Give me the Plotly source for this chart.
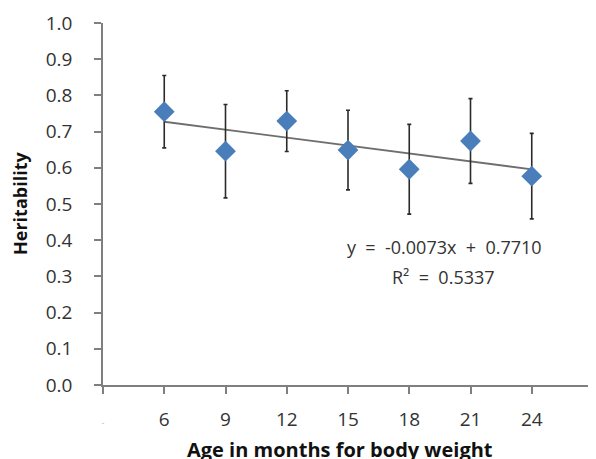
import plotly.graph_objects as go

months = [6, 9, 12, 15, 18, 21, 24]
heritability = [0.755, 0.646, 0.729, 0.649, 0.596, 0.674, 0.577]
std_error = [0.100, 0.129, 0.084, 0.110, 0.124, 0.117, 0.118]

trend_slope = -0.0073
trend_intercept = 0.7710
r_squared = 0.5337

x_tickvals = [3, 6, 9, 12, 15, 18, 21, 24, 27]
x_ticktext = ["<span style='color:#c0c0c0;font-size:9px'>-</span>", "6", "9", "12", "15", "18", "21", "24", ""]
y_tickvals = [0.0, 0.1, 0.2, 0.3, 0.4, 0.5, 0.6, 0.7, 0.8, 0.9, 1.0]

trend_x = [months[0], months[-1]]
trend_y = [trend_slope * m + trend_intercept for m in trend_x]

FONT = "Open Sans"
OFF = 8  # page body margin
W, H = 596 - OFF, 459 - OFF
L, R, T, B = 103 - OFF, 3, 23 - OFF, 74
plot_w = W - L - R
plot_h = H - T - B


def xp(px):
    return (px - OFF - L) / plot_w


def yp(py):
    return (T + plot_h - (py - OFF)) / plot_h


fig = go.Figure()
fig.add_trace(go.Scatter(
    x=trend_x, y=trend_y, mode="lines",
    line=dict(color="#6e6e6e", width=1.8),
    showlegend=False, hoverinfo="skip",
))
fig.add_trace(go.Scatter(
    x=months, y=heritability, mode="markers",
    marker=dict(symbol="diamond", size=16, color="#4a7ebb",
                line=dict(width=0)),
    error_y=dict(type="data", array=std_error, visible=True,
                 color="#2b2b2b", thickness=1.6, width=2),
    showlegend=False,
))

eq_text = f"y&nbsp; =&nbsp; {trend_slope:.4f}x&nbsp; +&nbsp; {trend_intercept:.4f}"
fig.add_annotation(
    x=xp(444), y=yp(247), xref="paper", yref="paper",
    text=eq_text,
    showarrow=False, font=dict(family=FONT, size=18, color="#333333"),
    xanchor="center", yanchor="middle",
)
fig.add_annotation(
    x=xp(443), y=yp(277), xref="paper", yref="paper",
    text=f"R²&nbsp; =&nbsp; {r_squared:.4f}",
    showarrow=False, font=dict(family=FONT, size=18, color="#333333"),
    xanchor="center", yanchor="middle",
)
# axis titles
fig.add_annotation(
    x=xp(340), y=yp(449), xref="paper", yref="paper",
    text="<b>Age in months for body weight</b>",
    showarrow=False, font=dict(family=FONT, size=20, color="#111111"),
    xanchor="center", yanchor="middle",
)
fig.add_annotation(
    x=xp(20), y=yp(204), xref="paper", yref="paper",
    text="<b>Heritability</b>", textangle=-90,
    showarrow=False, font=dict(family=FONT, size=18, color="#111111"),
    xanchor="center", yanchor="middle",
)

fig.update_layout(
    width=W, height=H,
    margin=dict(l=L, r=R, t=T, b=B),
    paper_bgcolor="white", plot_bgcolor="white",
    font=dict(family=FONT, size=19, color="#333333"),
    xaxis=dict(
        range=[3, 27], tickmode="array", tickvals=x_tickvals, ticktext=x_ticktext,
        showgrid=False, zeroline=False, showline=True, linecolor="#7f7f7f", linewidth=1.5,
        ticks="outside", ticklen=7, tickwidth=1.5, tickcolor="#7f7f7f",
        tickfont=dict(family=FONT, size=19, color="#333333"),
        ticklabelstandoff=9, automargin=False,
    ),
    yaxis=dict(
        range=[0, 1.0], tickmode="array", tickvals=y_tickvals,
        tickformat=".1f",
        showgrid=False, zeroline=False, showline=True, linecolor="#7f7f7f", linewidth=1.5,
        ticks="outside", ticklen=7, tickwidth=1.5, tickcolor="#7f7f7f",
        tickfont=dict(family=FONT, size=19, color="#333333"),
        ticklabelstandoff=18, automargin=False,
    ),
)

fig.write_html("out.html")
